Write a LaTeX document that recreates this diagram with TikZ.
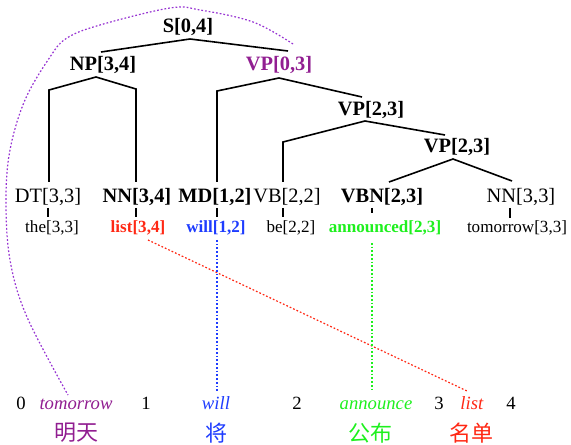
\documentclass[tikz,border=0pt]{standalone}
\usepackage{fontspec}
\setmainfont{Liberation Serif}
\newfontfamily\cjk{Noto Sans CJK SC}
\definecolor{purpT}{RGB}{145,30,145}
\definecolor{curveC}{RGB}{150,50,210}
\definecolor{redT}{RGB}{255,40,20}
\definecolor{blueT}{RGB}{30,60,255}
\definecolor{greenT}{RGB}{30,240,30}
\begin{document}
\begin{tikzpicture}[x=0.75pt,y=-0.75pt,
  nt/.style={inner sep=0pt, anchor=base, font=\fontsize{15.3}{18}\selectfont},
  lf/.style={inner sep=0pt, anchor=base, font=\fontsize{12.8}{15}\selectfont},
  wd/.style={inner sep=0pt, anchor=base, font=\fontsize{14}{16}\selectfont},
  zh/.style={inner sep=0pt, anchor=center, font=\fontsize{16.5}{18}\selectfont\cjk},
  edge/.style={black, line width=1.2pt},
  link/.style={line width=0.9pt, dash pattern=on 1.3pt off 1.5pt}]
\useasboundingbox (0,0) rectangle (571,445);

% nonterminals
\node[nt] (s) at (188,33) {\textbf{S[0,4]}};
\node[nt] (np) at (103,71) {\textbf{NP[3,4]}};
\node[nt, text=purpT] (vp03) at (279,71) {\textbf{VP[0,3]}};
\node[nt] (vp1) at (371,116) {\textbf{VP[2,3]}};
\node[nt] (vp2) at (457,153) {\textbf{VP[2,3]}};
% preterminals
\node[nt] (dt) at (48,203) {DT[3,3]};
\node[nt] (nn34) at (137,203) {\textbf{NN[3,4]}};
\node[nt] (md) at (215,203) {\textbf{MD[1,2]}};
\node[nt] (vb) at (287,203) {VB[2,2]};
\node[nt] (vbn) at (382,203) {\textbf{VBN[2,3]}};
\node[nt] (nn33) at (521,203) {NN[3,3]};
% leaves
\node[lf] (the) at (52,233) {the[3,3]};
\node[lf, text=redT] (list) at (138,233) {\textbf{list[3,4]}};
\node[lf, text=blueT] (will) at (216,233) {\textbf{will[1,2]}};
\node[lf] (be) at (291,233) {be[2,2]};
\node[lf, text=greenT] (ann) at (385,233) {\textbf{announced[2,3]}};
\node[lf] (tom) at (517,233) {tomorrow[3,3]};
% bottom row
\node[wd] (n0) at (21,409) {0};
\node[wd, text=purpT] (wtom) at (76,409) {\textit{tomorrow}};
\node[wd] (n1) at (146,409) {1};
\node[wd, text=blueT] (wwill) at (216,409) {\textit{will}};
\node[wd] (n2) at (297,409) {2};
\node[wd, text=greenT] (wann) at (376,409) {\textit{announce}};
\node[wd] (n3) at (439,409) {3};
\node[wd, text=redT] (wlist) at (472,409) {\textit{list}};
\node[wd] (n4) at (511,409) {4};
% chinese
\node[zh, text=purpT] (zmt) at (76,433) {明天};
\node[zh, text=blueT] (zj) at (216,433) {将};
\node[zh, text=greenT] (zgb) at (370,433) {公布};
\node[zh, text=redT] (zmd) at (471,433) {名单};

% edge coordinates
\coordinate (sA) at (190,39);   \coordinate (sL) at (101,52);  \coordinate (sR) at (288,51);
\coordinate (npA) at (96,77);   \coordinate (npL) at (49,90);  \coordinate (npR) at (136,89);
\coordinate (dtT) at (49,182);  \coordinate (nnT) at (136,182);
\coordinate (vpA) at (279,78);  \coordinate (vpL) at (217,91); \coordinate (vpR) at (362,97);
\coordinate (mdT) at (217,182);
\coordinate (v1A) at (365,121); \coordinate (v1L) at (283,142); \coordinate (v1R) at (445,135);
\coordinate (vbT) at (283,182);
\coordinate (v2A) at (453,159); \coordinate (v2L) at (389,182); \coordinate (v2R) at (512,181);
% short leaf edges
\coordinate (dtB) at (48,208);  \coordinate (theT) at (48,217);
\coordinate (nnB) at (136,208); \coordinate (listT) at (136,217);
\coordinate (mdB) at (217,208); \coordinate (willT) at (217,217);
\coordinate (vbB) at (283,208); \coordinate (beT) at (283,217);
\coordinate (vbnB) at (372,208); \coordinate (annT) at (372,213);
\coordinate (nn33B) at (510,208); \coordinate (tomT) at (510,218);

\draw[edge] (sL) -- (sA) -- (sR);
\draw[edge] (dtT) -- (npL) -- (npA) -- (npR) -- (nnT);
\draw[edge] (mdT) -- (vpL) -- (vpA) -- (vpR);
\draw[edge] (vbT) -- (v1L) -- (v1A) -- (v1R);
\draw[edge] (v2L) -- (v2A) -- (v2R);
\draw[edge] (dtB) -- (theT);
\draw[edge] (nnB) -- (listT);
\draw[edge] (mdB) -- (willT);
\draw[edge] (vbB) -- (beT);
\draw[edge] (vbnB) -- (annT);
\draw[edge] (nn33B) -- (tomT);

% alignment links
\coordinate (lA) at (148,240); \coordinate (lB) at (467,391);
\coordinate (wA) at (217,240); \coordinate (wB) at (217,391);
\coordinate (aA) at (372,243); \coordinate (aB) at (372,391);
\draw[link, draw=redT] (lA) -- (lB);
\draw[link, draw=blueT] (wA) -- (wB);
\draw[link, draw=greenT] (aA) -- (aB);
\coordinate (cS) at (293,44); \coordinate (cE) at (68,395);
\draw[link, draw=curveC] plot[smooth, tension=0.6] coordinates {(cS) (253,22) (200,10) (170,8) (100,25) (67,38) (50,57) (25,100) (10,150) (6,200) (10,260) (27,317) (cE)};
\end{tikzpicture}
\end{document}
